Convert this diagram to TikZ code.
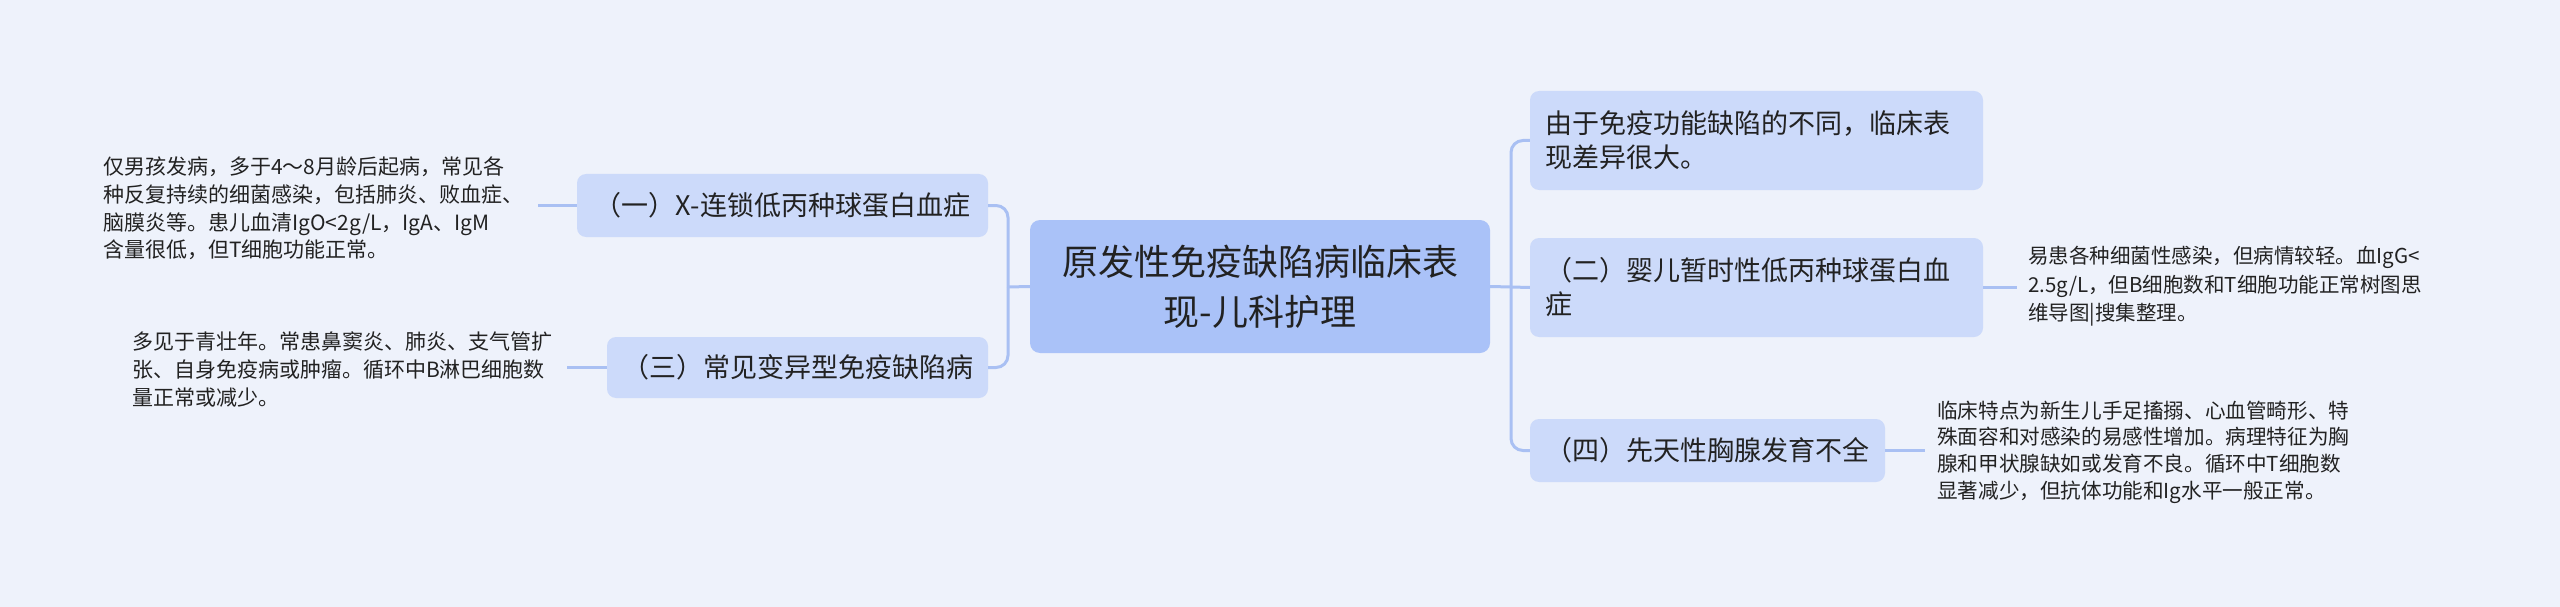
\documentclass[tikz,border=0pt]{standalone}
\usepackage{fontspec}
\setmainfont{Noto Sans CJK SC}
\definecolor{bgc}{HTML}{EEF2FB}
\definecolor{nodefill}{HTML}{CCDAFA}
\definecolor{rootfill}{HTML}{AAC2F8}
\definecolor{linec}{HTML}{A9C0F3}
\definecolor{textc}{HTML}{222222}
\begin{document}
\begin{tikzpicture}[x=1pt,y=-1pt,
  box/.style={fill=nodefill, rounded corners=9pt, inner xsep=15pt, inner ysep=0pt, text=textc, font=\fontsize{27}{34}\selectfont},
  rootbox/.style={fill=rootfill, rounded corners=10pt, inner xsep=15pt, inner ysep=0pt, text=textc, align=center, font=\fontsize{36}{50}\selectfont},
  leaf/.style={inner ysep=0pt, text=textc, align=left, anchor=west},
  conn/.style={draw=linec, line width=3pt, rounded corners=12pt}]
\fill[bgc] (0,0) rectangle (2560,607);
\useasboundingbox (0,0) rectangle (2560,607);

\node[rootbox, minimum width=460pt, minimum height=133pt] (root) at (1260,286.5) {原发性免疫缺陷病临床表\\现-儿科护理};

\node[box, minimum width=411pt, minimum height=63pt, align=center] (n1) at (782.5,205.5) {（一）X-连锁低丙种球蛋白血症};
\node[box, minimum width=381pt, minimum height=61pt, align=center] (n3) at (797.5,367.5) {（三）常见变异型免疫缺陷病};

\node[box, minimum width=453pt, minimum height=99pt, text width=423pt, align=left] (nA) at (1756.5,140.5) {由于免疫功能缺陷的不同，临床表\\现差异很大。};
\node[box, minimum width=453pt, minimum height=99pt, text width=423pt, align=left] (nB) at (1756.5,287.5) {（二）婴儿暂时性低丙种球蛋白血\\症};
\node[box, minimum width=355pt, minimum height=63pt, align=center] (nD) at (1707.5,450.5) {（四）先天性胸腺发育不全};

\node[leaf, text width=430pt, inner xsep=5pt, font=\fontsize{21}{27.7}\selectfont] (L1) at (98,208.5)
  {仅男孩发病，多于4～8月龄后起病，常见各\\种反复持续的细菌感染，包括肺炎、败血症、\\脑膜炎等。患儿血清IgO<2g/L，IgA、IgM\\含量很低，但T细胞功能正常。};
\node[leaf, text width=425pt, inner xsep=10pt, font=\fontsize{21}{28}\selectfont] (L3) at (122,370)
  {多见于青壮年。常患鼻窦炎、肺炎、支气管扩\\张、自身免疫病或肿瘤。循环中B淋巴细胞数\\量正常或减少。};
\node[leaf, text width=420pt, inner xsep=11pt, font=\fontsize{20.5}{28.5}\selectfont] (RB) at (2017,286.5)
  {易患各种细菌性感染，但病情较轻。血IgG<\\2.5g/L，但B细胞数和T细胞功能正常树图思\\维导图|搜集整理。};
\node[leaf, text width=425pt, inner xsep=12pt, font=\fontsize{20.6}{26.7}\selectfont] (RD) at (1925,452)
  {临床特点为新生儿手足搐搦、心血管畸形、特\\殊面容和对感染的易感性增加。病理特征为胸\\腺和甲状腺缺如或发育不良。循环中T细胞数\\显著减少，但抗体功能和Ig水平一般正常。};

\coordinate (jl) at (1008,287);
\coordinate (jr) at (1511,287);
\draw[conn] (root.west) -- (jl);
\draw[conn] (n1.east) -| (jl);
\draw[conn] (n3.east) -| (jl);
\draw[conn] (root.east) -- (jr) -- (nB.west);
\draw[conn] (nA.west) -| (jr);
\draw[conn] (nD.west) -| (jr);
\draw[conn] (L1.east |- n1.west) -- (n1.west);
\draw[conn] (L3.east |- n3.west) -- (n3.west);
\draw[conn] (nB.east) -- (RB.west |- nB.east);
\draw[conn] (nD.east) -- (RD.west |- nD.east);
\end{tikzpicture}
\end{document}
